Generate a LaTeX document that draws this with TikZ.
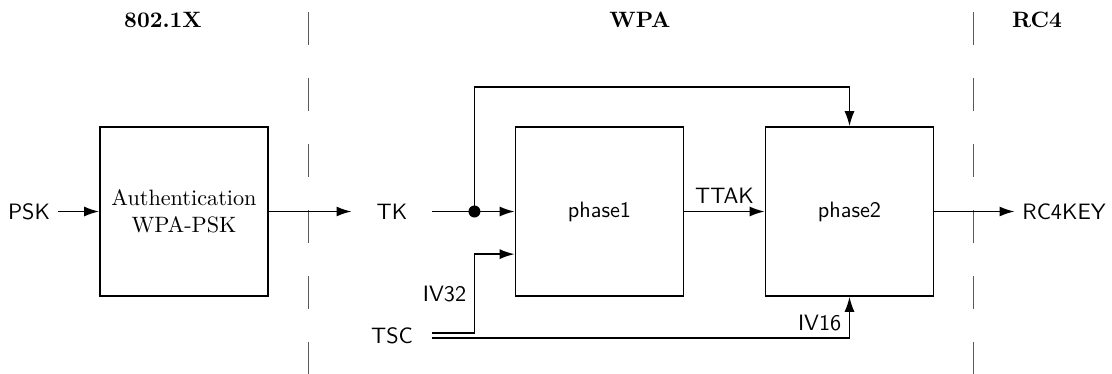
\documentclass[tikz,border=0pt]{standalone}
\usepackage{xcolor}
\usepackage{tikz}
\usetikzlibrary{positioning,calc,arrows.meta}

\begin{document}
\begin{tikzpicture}[
  x=0.45pt,
  y=-0.45pt,
  every node/.style={font=\rmfamily},
  block/.style={draw, line width=0.75pt, minimum width=75.6pt, minimum height=76pt, inner sep=0pt},
  sig/.style={font=\sffamily},
  port/.style={sig, minimum width=36pt},
  head/.style={font=\bfseries},
  wire/.style={line width=0.75pt},
  flow/.style={wire, -{Latex[length=6.75pt,width=4.5pt]}},
  divider/.style={black!65, line width=0.45pt, dash pattern=on 14.85pt off 14.85pt},
]
\path[use as bounding box] (0,0) rectangle (1112,374);

% Section dividers.
\draw[divider] (308,12) -- (308,374);
\draw[divider] (973,12) -- (973,374);

% Section titles.
\node[head] (t8021x) at (163,20) {802.1X};
\node[head] (twpa) at (640,20) {WPA};
\node[head] (trc4) at (1037,20) {RC4};

% Blocks.
\node[block, align=center] (auth) at (184,211.5) {Authentication\\WPA-PSK};
\node[block, sig] (phase1) at (599.5,211.5) {phase1};
\node[block, sig] (phase2) at (849.5,211.5) {phase2};

% Inputs and outputs.
\node[sig] (psk) at (29,211.5) {PSK};
\node[port] (tk) at (392,211.5) {TK};
\node[port] (tsc) at (392,335.5) {TSC};
\node[sig] (rc4key) at (1064,211.5) {RC4KEY};

% Helper points.
\coordinate (split) at ($(tk.east)+(42,0)$);
\coordinate (ktop) at ($(split)+(0,-124.5)$);
\coordinate (iv32in) at ($(phase1.south west)!0.25!(phase1.north west)$);

% Key path.
\draw[flow] (psk) -- (auth);
\draw[flow] (auth) -- (tk);
\draw[wire] (tk.east) -- (split);
\draw[flow] (split) -- (phase1.west);
\draw[flow] (split) -- (ktop) -| (phase2.north);
\fill (split) circle (2.7pt);
\draw[flow] (phase1) -- node[sig, above] (ttak) {TTAK} (phase2);
\draw[flow] (phase2) -- (rc4key);

% TSC split into IV32 and IV16.
\draw[flow] ($(tsc.east)+(0,-2.5)$) -| node[sig, left, pos=0.75] (iv32) {IV32} (split |- iv32in) -- (iv32in);
\draw[flow] ($(tsc.east)+(0,2.5)$) -| node[sig, left, pos=0.68] (iv16) {IV16} (phase2.south);

\end{tikzpicture}
\end{document}
